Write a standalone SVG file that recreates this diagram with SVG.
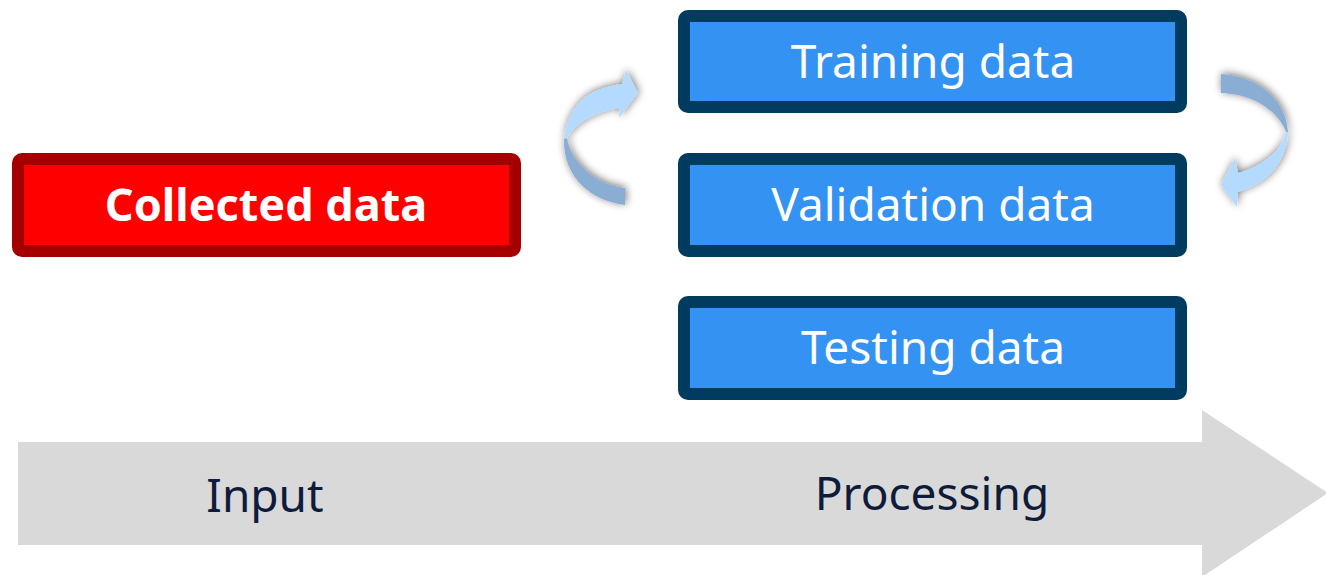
<svg xmlns="http://www.w3.org/2000/svg" width="1326" height="575" viewBox="0 0 1326 575">
  <defs>
    <style>
      .box { fill: #3392F2; stroke: #013B5F; stroke-width: 12; }
      .red { fill: #FF0000; stroke: #A50000; stroke-width: 12; }
      .lbl { font-family: "Noto Sans", "DejaVu Sans", sans-serif; font-size: 46px; fill: #FFFFFF; text-anchor: middle; }
      .bold { font-weight: bold; font-size: 45px; }
      .stage { font-family: "Noto Sans", "DejaVu Sans", sans-serif; font-size: 46px; fill: #0E1B3A; text-anchor: middle; }
      .light { fill: #B5DAFF; }
      .dark { fill: #8AADD3; }
    </style>
    <filter id="shadow" x="-30%" y="-30%" width="160%" height="160%">
      <feGaussianBlur in="SourceAlpha" stdDeviation="4"/>
      <feOffset dx="1" dy="-1" result="b"/>
      <feComponentTransfer><feFuncA type="linear" slope="0.55"/></feComponentTransfer>
      <feMerge><feMergeNode/><feMergeNode in="SourceGraphic"/></feMerge>
    </filter>
  </defs>

  <!-- timeline band -->
  <g id="timeline">
    <polygon points="18,442 1202,442 1202,410 1328,493 1202,577 1202,545 18,545" fill="#D9D9D9"/>
    <text class="stage" x="265" y="512">Input</text>
    <text class="stage" x="932" y="510">Processing</text>
  </g>

  <g id="collected">
    <rect class="red" x="18" y="159" width="497" height="92" rx="4"/>
    <text class="lbl bold" x="266" y="221">Collected data</text>
  </g>

  <g id="training">
    <rect class="box" x="684" y="16" width="497" height="91" rx="4"/>
    <text class="lbl" x="933" y="78">Training data</text>
  </g>

  <g id="validation">
    <rect class="box" x="684" y="159" width="497" height="92" rx="4"/>
    <text class="lbl" x="933" y="221">Validation data</text>
  </g>

  <g id="testing">
    <rect class="box" x="684" y="302" width="497" height="92" rx="4"/>
    <text class="lbl" x="933" y="364">Testing data</text>
  </g>

  <!-- curved loop arrows -->
  <g id="connectors">
    <g filter="url(#shadow)">
      <path class="dark" d="M625,205 C592,201 563,178 564,139 L567,138 C571,163 596,185 625,188 Z"/>
      <path class="light" d="M564,139 C566,118 578,98 596,91 C605,87 614,85 622,84 L626,70 L638,93 L619,118 L620,108 C603,110 585,118 576,127 C571,131 568,135 567,138 Z"/>
    </g>
    <g filter="url(#shadow)">
      <path class="dark" d="M1221,74 C1256,76 1286,98 1288,132 L1286,132 C1278,110 1252,94 1221,93 Z"/>
      <path class="light" d="M1288,132 C1288,148 1280,166 1267,177 C1257,185 1247,189 1238,192 L1237,207 L1221,185 L1235,158 L1238,173 C1250,170 1263,163 1272,155 C1280,148 1284,140 1286,132 Z"/>
    </g>
  </g>
</svg>
